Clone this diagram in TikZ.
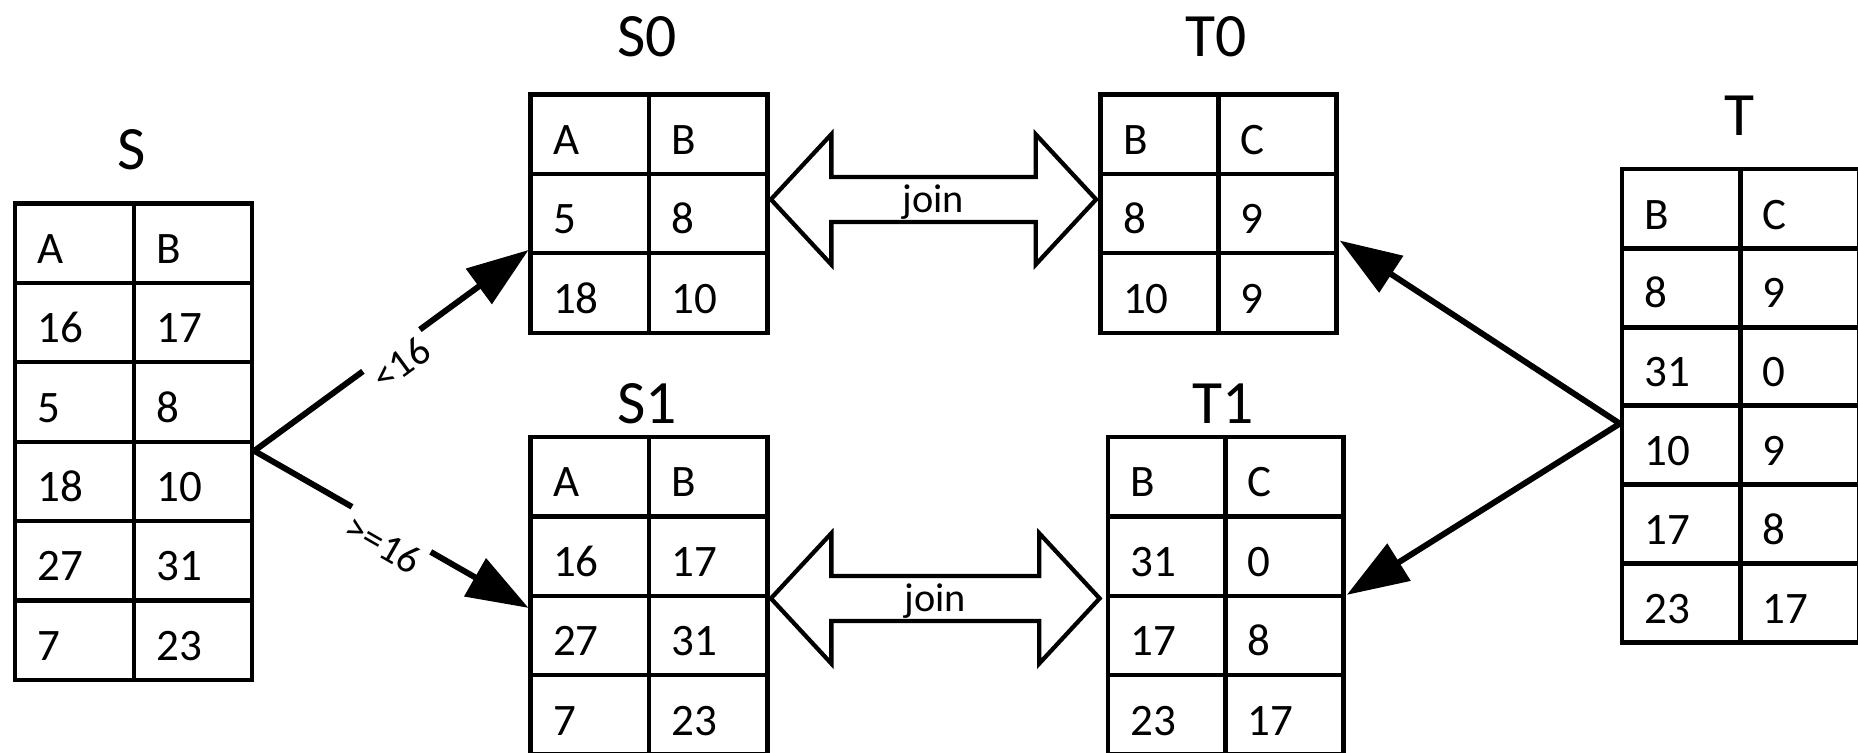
\documentclass[tikz,border=0pt]{standalone}
\usepackage{fontspec}
\setmainfont{Carlito}
\usetikzlibrary{arrows.meta,calc}
\begin{document}
\begin{tikzpicture}[x=1pt,y=-1pt,
  cell/.style={draw, line width=3.6pt, minimum width=100pt, minimum height=67pt,
    text width=62pt, align=left, inner xsep=19pt, inner ysep=3pt,
    text height=34pt, text depth=0pt, anchor=north west,
    font=\fontsize{38}{40}\selectfont},
  ttl/.style={inner sep=0pt, font=\fontsize{52}{54}\selectfont},
  flow/.style={line width=5pt, -{Triangle[length=52pt,width=36pt]}},
  lbl/.style={sloped, fill=white, font=\fontsize{34}{36}\selectfont,
    inner xsep=4pt, inner ysep=2pt, text height=51pt, text depth=0pt, anchor=center},
  block/.style={draw, line width=3.6pt, line join=miter, fill=white},
  jointxt/.style={anchor=base, inner sep=0pt, font=\fontsize{34}{36}\selectfont}
]
\useasboundingbox (0,0) rectangle (1568,635);

% table S
\foreach \a/\b [count=\i] in {A/B,16/17,5/8,18/10,27/31,7/23} {
  \node[cell] (S-\i-1) at (11,{170+(\i-1)*67}) {\a};
  \node[cell] (S-\i-2) at (111,{170+(\i-1)*67}) {\b};
}
\node[ttl] (tS) at (111,126) {S};

% table S0
\foreach \a/\b [count=\i] in {A/B,5/8,18/10} {
  \node[cell] (S0-\i-1) at (446,{78+(\i-1)*67}) {\a};
  \node[cell] (S0-\i-2) at (546,{78+(\i-1)*67}) {\b};
}
\node[ttl] (tS0) at (546,31) {S0};

% table T0
\foreach \a/\b [count=\i] in {B/C,8/9,10/9} {
  \node[cell] (T0-\i-1) at (927,{78+(\i-1)*67}) {\a};
  \node[cell] (T0-\i-2) at (1026,{78+(\i-1)*67}) {\b};
}
\node[ttl] (tT0) at (1026,31) {T0};

% table S1
\foreach \a/\b [count=\i] in {A/B,16/17,27/31,7/23} {
  \node[cell] (S1-\i-1) at (446,{367+(\i-1)*67}) {\a};
  \node[cell] (S1-\i-2) at (546,{367+(\i-1)*67}) {\b};
}
\node[ttl] (tS1) at (546,341) {S1};

% table T1
\foreach \a/\b [count=\i] in {B/C,31/0,17/8,23/17} {
  \node[cell] (T1-\i-1) at (933,{367+(\i-1)*67}) {\a};
  \node[cell] (T1-\i-2) at (1032,{367+(\i-1)*67}) {\b};
}
\node[ttl] (tT1) at (1032,341) {T1};

% table T
\foreach \a/\b [count=\i] in {B/C,8/9,31/0,10/9,17/8,23/17} {
  \node[cell] (T-\i-1) at (1367,{141+(\i-1)*66.5}) {\a};
  \node[cell] (T-\i-2) at (1467,{141+(\i-1)*66.5}) {\b};
}
\node[ttl] (tT) at (1468,98) {T};

% split arrows from S
\coordinate (Sout) at ($(S-4-2.north east)+(0,9.5)$);
\coordinate (S0in) at ($(S0-3-1.north west)+(0,-1)$);
\coordinate (S1in) at ($(S1-3-1.north west)+(0,12)$);
\draw[flow] (Sout) -- node[lbl] (l0) {<16} (S0in);
\draw[flow] (Sout) -- node[lbl] (l1) {>=16} (S1in);

% arrows from T
\coordinate (Tout) at ($(T-4-1.north west)+(0,17)$);
\coordinate (T0in) at ($(T0-3-2.north east)+(1,-9)$);
\coordinate (T1in) at ($(T1-3-2.north east)+(1,1)$);
\draw[flow] (Tout) -- (T0in);
\draw[flow] (Tout) -- (T1in);

% join block arrows
\coordinate (J0a) at ($(S0-2-2.east)+(1,-12)$);
\coordinate (J0b) at ($(T0-2-1.west)+(-2,-12)$);
\draw[block] (J0a) -- ++(51,-55) -- ++(0,36) -- ($(J0b)+(-51,-19)$) -- ++(0,-36)
  -- (J0b) -- ++(-51,55) -- ++(0,-36) -- ($(J0a)+(51,19)$) -- ++(0,36) -- cycle;
\node[jointxt] (j0) at ($(J0a)!0.5!(J0b)+(0,11)$) {join};

\coordinate (J1a) at ($(S1-3-2.north east)+(1,4)$);
\coordinate (J1b) at ($(T1-3-1.north west)+(-5,4)$);
\draw[block] (J1a) -- ++(51,-55) -- ++(0,36) -- ($(J1b)+(-51,-19)$) -- ++(0,-36)
  -- (J1b) -- ++(-51,55) -- ++(0,-36) -- ($(J1a)+(51,19)$) -- ++(0,36) -- cycle;
\node[jointxt] (j1) at ($(J1a)!0.5!(J1b)+(0,11)$) {join};
\end{tikzpicture}
\end{document}
